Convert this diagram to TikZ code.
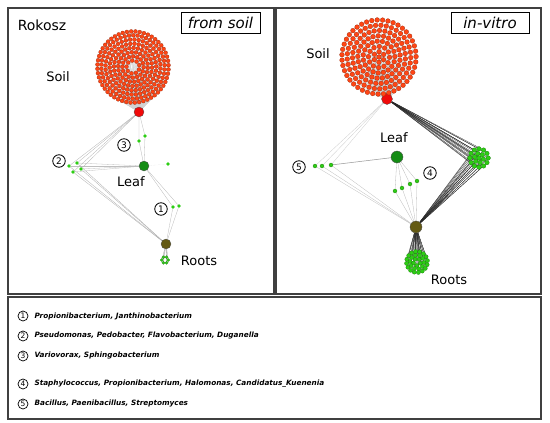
\documentclass[tikz,border=0pt]{standalone}
\usepackage{fontspec}
\setmainfont{DejaVu Sans}
\usepackage{tikz}
\usetikzlibrary{positioning, calc, backgrounds}

\definecolor{soilred}{RGB}{255,69,20}
\definecolor{hubred}{RGB}{240,10,10}
\definecolor{dotgreen}{RGB}{45,205,20}
\definecolor{leafgreen}{RGB}{20,140,20}
\definecolor{rootolive}{RGB}{100,90,20}

\tikzset{
  sdot/.style={circle, inner sep=0pt, minimum size=4pt, fill=soilred, draw=soilred!55!black, line width=0.2pt},
  gdot/.style={circle, inner sep=0pt, minimum size=3.6pt, fill=dotgreen, draw=dotgreen!55!black, line width=0.2pt},
  hub/.style={circle, inner sep=0pt, minimum size=10pt, draw=black!70, line width=0.3pt},
  num/.style={circle, draw, line width=0.8pt, inner sep=0pt, minimum size=12.5pt, font=\fontsize{9}{9}\selectfont},
  lbl/.style={font=\fontsize{13}{15}\selectfont},
  tagbox/.style={draw, line width=0.8pt, minimum width=79pt, minimum height=21pt, font=\fontsize{15}{16}\selectfont\itshape},
  panelbox/.style={draw=black!75, line width=1.2pt},
  lnk/.style={line width=0.3pt, gray!55},
  blk/.style={line width=0.25pt, black!85},
}

\begin{document}
\begin{tikzpicture}[x=1pt, y=-1pt]
\useasboundingbox (0,0) rectangle (550,423);

\draw[panelbox] (8,8) rectangle (274,294);
\draw[panelbox] (276,8) rectangle (541,294);
\draw[panelbox] (8,297) rectangle (541,419);

\node[font=\fontsize{14}{16}\selectfont] (site) at (42,25) {Rokosz};
\node[tagbox] (soiltag) at (220.5,22.5) {from soil};
\node[tagbox, minimum width=78pt] (vitrotag) at (490,22.5) {in-vitro};

% from soil
\node[hub, fill=hubred] (lsoil) at (139,112) {};
\node[hub, fill=leafgreen] (lleaf) at (144,166) {};
\node[hub, fill=rootolive] (lroot) at (166,244) {};

\coordinate (lsc) at (133,67);
\foreach \rad [count=\ri] in {6.5,10.7,14.9,19.1,23.3,27.5,31.7,35.6} {
  \pgfmathtruncatemacro{\nn}{round(2*pi*\rad/4.3)}
  \foreach \k in {1,...,\nn} {
    \pgfmathsetmacro{\ang}{360/\nn*\k+23*\ri}
    \node[sdot] (ls\ri-\k) at ($(lsc)+(\ang:\rad)$) {};
  }
}
\begin{pgfonlayer}{background}
\foreach \rad [count=\ri] in {6.5,10.7,14.9,19.1,23.3,27.5,31.7,35.6} {
  \pgfmathtruncatemacro{\nn}{round(2*pi*\rad/4.3)}
  \foreach \k in {1,...,\nn} {
    \pgfmathsetmacro{\ang}{360/\nn*\k+23*\ri}
    \pgfmathtruncatemacro{\dark}{and(\ri<5, abs(mod(\ang,360)-90)<40)}
    \ifnum\dark=1 \draw[blk] (lsoil) -- (ls\ri-\k); \else \draw[lnk, gray!35] (lsoil) -- (ls\ri-\k); \fi
  }
}
\end{pgfonlayer}

\coordinate (lrc) at (165,260);
\foreach \k in {1,...,6} {
  \node[gdot, minimum size=3.2pt] (lr\k) at ($(lrc)+(60*\k:3.2)$) {};
}

\node[gdot, draw=none] (l3a) at (139,141) {};
\node[gdot, draw=none] (l3b) at (145,136) {};
\node[gdot, draw=none] (l2a) at (69,166) {};
\node[gdot, draw=none] (l2b) at (77,163) {};
\node[gdot, draw=none] (l2c) at (73,172) {};
\node[gdot, draw=none] (l2d) at (81,169) {};
\node[gdot, draw=none] (l1a) at (173,207) {};
\node[gdot, draw=none] (l1b) at (179,206) {};
\node[gdot, draw=none] (lx) at (168,164) {};

\node[num] (c1) at (161,209) {1};
\node[num] (c2) at (59,161) {2};
\node[num] (c3) at (124,145) {3};

\node[lbl] (lsoillbl) at (58,77) {Soil};
\node[lbl] (lleaflbl) at (131,182) {Leaf};
\node[lbl] (lrootlbl) at (199,261) {Roots};

\begin{pgfonlayer}{background}
  \foreach \k in {1,...,6} {
    \draw[lnk, gray!70] (lroot) -- (lr\k);
  }
  \foreach \g in {l3a,l3b} {
    \draw[lnk] (lsoil) -- (\g) -- (lleaf);
  }
  \foreach \g in {l2a,l2b,l2c,l2d} {
    \draw[lnk, gray!60] (lsoil) -- (\g);
    \draw[lnk, gray!50] (lleaf) -- (\g);
    \draw[lnk, gray!65] (\g) -- (lroot);
  }
  \foreach \g in {l1a,l1b} {
    \draw[lnk] (lleaf) -- (\g) -- (lroot);
  }
  \draw[lnk, gray!35, densely dotted] (lleaf) -- (lx);
\end{pgfonlayer}

% in-vitro
\node[hub, minimum size=11pt, fill=hubred] (rsoil) at (387,99) {};
\node[hub, minimum size=12pt, fill=leafgreen] (rleaf) at (397,157) {};
\node[hub, minimum size=12pt, fill=rootolive] (rroot) at (416,227) {};

\coordinate (rsc) at (379,57);
\node[sdot, minimum size=4.8pt] (rs0) at (rsc) {};
\foreach \rad [count=\ri] in {5.3,10.6,15.9,21.2,26.5,31.8,37.1} {
  \pgfmathtruncatemacro{\nn}{round(2*pi*\rad/5.4)}
  \foreach \k in {1,...,\nn} {
    \pgfmathsetmacro{\ang}{360/\nn*\k+31*\ri}
    \node[sdot, minimum size=4.8pt] (rs\ri-\k) at ($(rsc)+(\ang:\rad)$) {};
  }
}
\begin{pgfonlayer}{background}
\draw[blk] (rsoil) -- (rs0);
\foreach \rad [count=\ri] in {5.3,10.6,15.9,21.2,26.5,31.8,37.1} {
  \pgfmathtruncatemacro{\nn}{round(2*pi*\rad/5.4)}
  \foreach \k in {1,...,\nn} {
    \pgfmathsetmacro{\ang}{360/\nn*\k+31*\ri}
    \pgfmathtruncatemacro{\dark}{and(\ri<4, abs(mod(\ang,360)-90)<70)}
    \ifnum\dark=1 \draw[blk] (rsoil) -- (rs\ri-\k); \else \draw[lnk, gray!35] (rsoil) -- (rs\ri-\k); \fi
  }
}
\end{pgfonlayer}

\coordinate (rgc) at (479,158);
\node[gdot, minimum size=4.6pt] (rg0) at (rgc) {};
\foreach \rad/\nn [count=\ri] in {4.6/6,9.2/12} {
  \foreach \k in {1,...,\nn} {
    \node[gdot, minimum size=4.6pt] (rg\ri-\k) at ($(rgc)+(360/\nn*\k+15*\ri:\rad)$) {};
  }
}

\coordinate (rrc) at (417,262);
\foreach \rad/\nn [count=\ri] in {3.5/5,7/10,10.5/16} {
  \foreach \k in {1,...,\nn} {
    \node[gdot, minimum size=4.2pt] (rr\ri-\k) at ($(rrc)+(360/\nn*\k+20*\ri:\rad)$) {};
  }
}

\node[gdot, minimum size=4pt] (r5a) at (315,166) {};
\node[gdot, minimum size=4pt] (r5b) at (322,166) {};
\node[gdot, minimum size=4pt] (r5c) at (331,165) {};
\node[gdot, minimum size=4pt] (r4a) at (395,191) {};
\node[gdot, minimum size=4pt] (r4b) at (402,188) {};
\node[gdot, minimum size=4pt] (r4c) at (410,184) {};
\node[gdot, minimum size=4pt] (r4d) at (417,181) {};

\node[num] (c4) at (430,173) {4};
\node[num] (c5) at (299,167) {5};

\node[lbl] (rsoillbl) at (318,54) {Soil};
\node[lbl] (rleaflbl) at (394,138) {Leaf};
\node[lbl] (rrootlbl) at (449,280) {Roots};

\begin{pgfonlayer}{background}
  \draw[blk] (rsoil) -- (rg0) -- (rroot);
  \foreach \rad/\nn [count=\ri] in {4.6/6,9.2/12} {
    \foreach \k in {1,...,\nn} {
      \draw[blk] (rsoil) -- (rg\ri-\k) -- (rroot);
    }
  }
  \foreach \rad/\nn [count=\ri] in {3.5/5,7/10,10.5/16} {
    \foreach \k in {1,...,\nn} {
      \draw[blk] (rroot) -- (rr\ri-\k);
    }
  }
  \foreach \g in {r5a,r5b,r5c} {
    \draw[lnk, gray!40] (rsoil) -- (\g);
    \draw[lnk, gray!50] (\g) -- (rroot);
  }
  \draw[lnk, gray!85, line width=0.5pt] (rleaf) -- (r5c);
  \foreach \g in {r4a,r4b,r4c,r4d} {
    \draw[lnk] (rleaf) -- (\g) -- (rroot);
  }
\end{pgfonlayer}

% legend
\foreach \yy/\txt [count=\i] in {316/{Propionibacterium, Janthinobacterium},
    336/{Pseudomonas, Pedobacter, Flavobacterium, Duganella},
    356/{Variovorax, Sphingobacterium},
    384/{Staphylococcus, Propionibacterium, Halomonas, Candidatus\_Kuenenia},
    404/{Bacillus, Paenibacillus, Streptomyces}} {
  \node[num, minimum size=10pt, line width=0.7pt, font=\fontsize{7.5}{7.5}\selectfont] (k\i) at (23,\yy) {\i};
  \node[right=6pt of k\i, inner sep=0pt, font=\fontsize{7.3}{9}\selectfont\bfseries\itshape] (t\i) {\txt};
}
\end{tikzpicture}
\end{document}
